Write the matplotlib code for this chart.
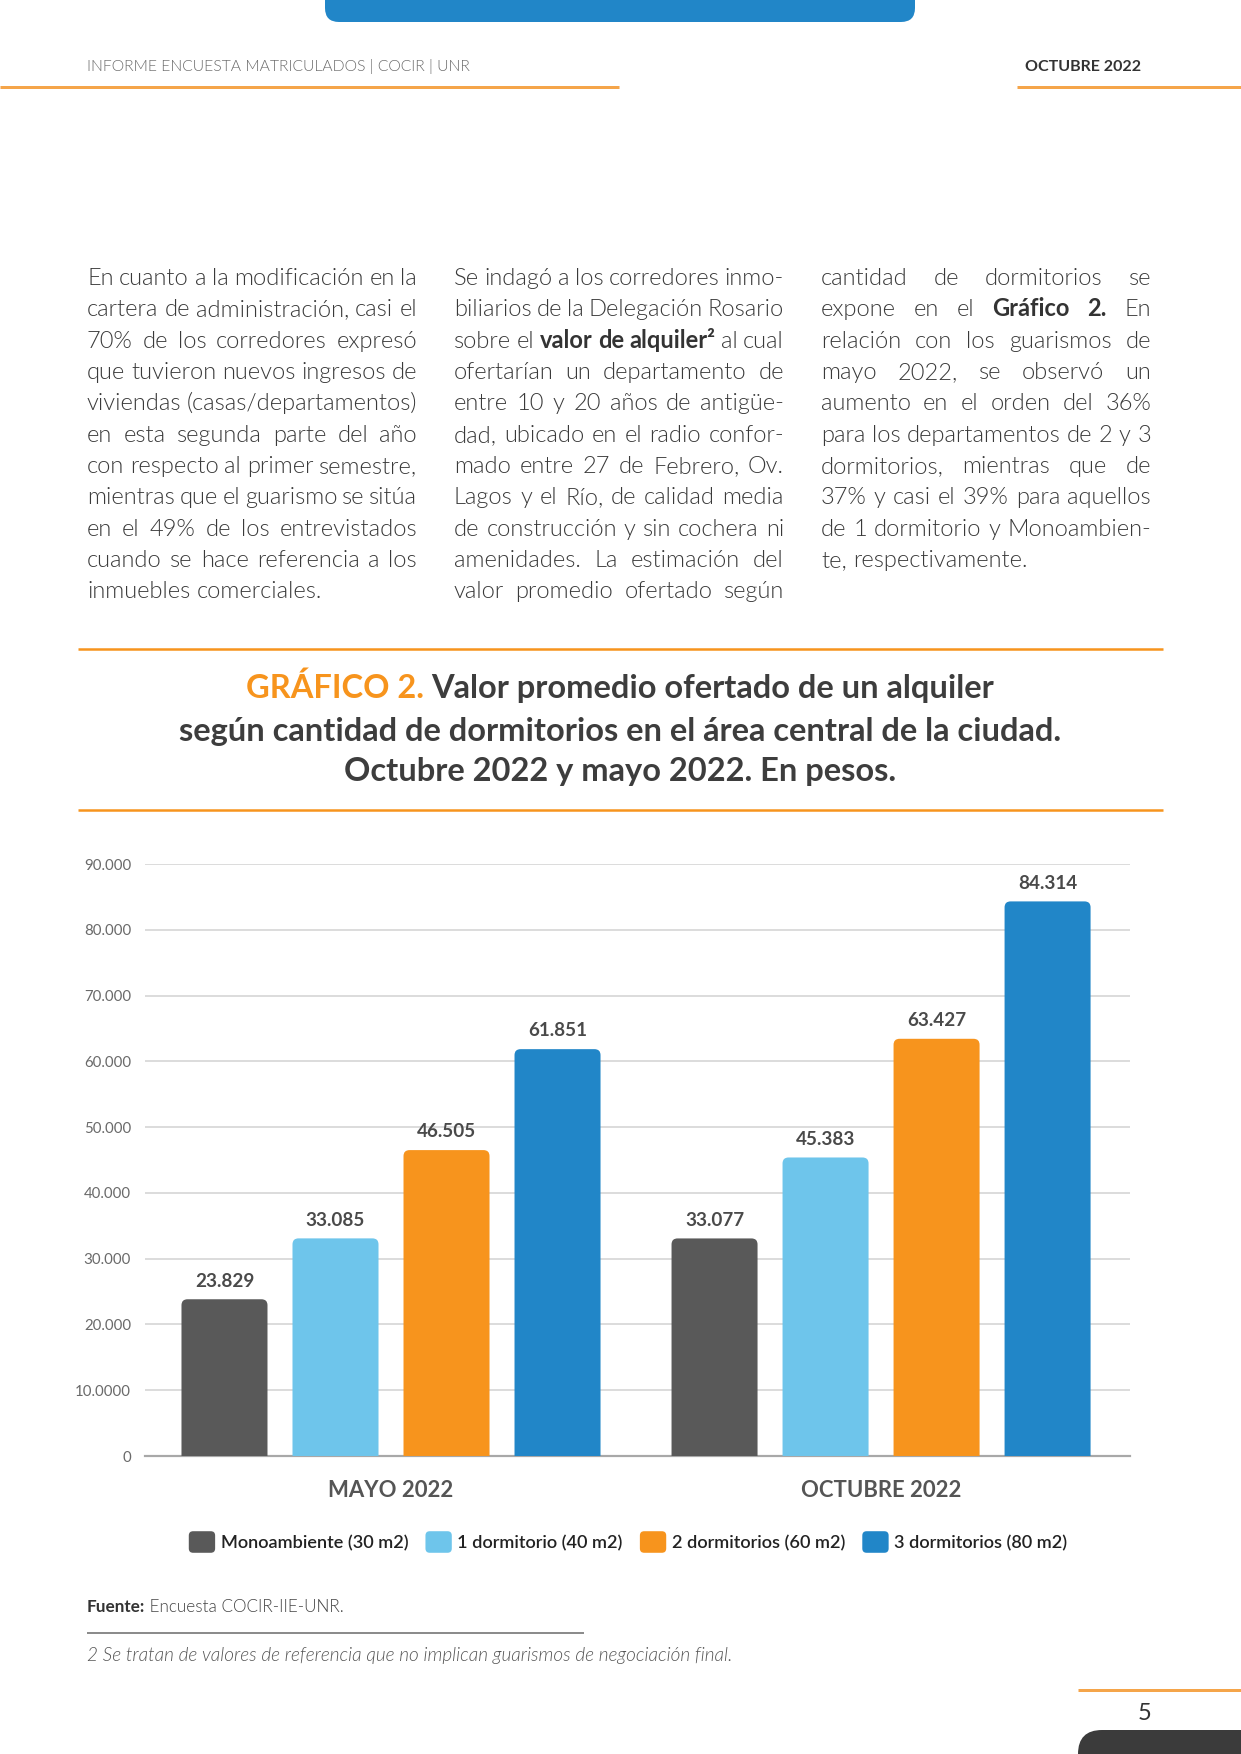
import numpy as np
import matplotlib
matplotlib.use("Agg")
import matplotlib.pyplot as plt
from matplotlib.patches import FancyBboxPatch, Rectangle
from matplotlib.lines import Line2D
from matplotlib.legend_handler import HandlerPatch
from matplotlib.transforms import IdentityTransform

plt.rcParams['font.family'] = ['Lato', 'DejaVu Sans']

# ---------------- data ----------------
groups = ["MAYO 2022", "OCTUBRE 2022"]
series = ["Monoambiente (30 m2)", "1 dormitorio (40 m2)",
          "2 dormitorios (60 m2)", "3 dormitorios (80 m2)"]
mayo_2022 = [23829, 33085, 46505, 61851]
octubre_2022 = [33077, 45383, 63427, 84314]
y_ticks = [0, 10000, 20000, 30000, 40000, 50000, 60000, 70000, 80000, 90000]
y_tick_labels = ["0", "10.0000", "20.000", "30.000", "40.000", "50.000",
                 "60.000", "70.000", "80.000", "90.000"]
series_colors = ["#595959", "#6EC5EB", "#F7941D", "#2186C8"]

header_left = "INFORME ENCUESTA MATRICULADOS | COCIR | UNR"
header_right = "OCTUBRE 2022"
title_prefix = "GRÁFICO 2."
title_lines = ["Valor promedio ofertado de un alquiler",
               "según cantidad de dormitorios en el área central de la ciudad.",
               "Octubre 2022 y mayo 2022. En pesos."]
col1 = ["En cuanto a la modificación en la",
        "cartera de administración, casi el",
        "70% de los corredores expresó",
        "que tuvieron nuevos ingresos de",
        "viviendas (casas/departamentos)",
        "en esta segunda parte del año",
        "con respecto al primer semestre,",
        "mientras que el guarismo se sitúa",
        "en el 49% de los entrevistados",
        "cuando se hace referencia a los",
        "inmuebles comerciales."]
col2 = ["Se indagó a los corredores inmo-",
        "biliarios de la Delegación Rosario",
        "sobre el **valor de alquiler²** al cual",
        "ofertarían un departamento de",
        "entre 10 y 20 años de antigüe-",
        "dad, ubicado en el radio confor-",
        "mado entre 27 de Febrero, Ov.",
        "Lagos y el Río, de calidad media",
        "de construcción y sin cochera ni",
        "amenidades. La estimación del",
        "valor promedio ofertado según"]
col3 = ["cantidad de dormitorios se",
        "expone en el **Gráfico 2.** En",
        "relación con los guarismos de",
        "mayo 2022, se observó un",
        "aumento en el orden del 36%",
        "para los departamentos de 2 y 3",
        "dormitorios, mientras que de",
        "37% y casi el 39% para aquellos",
        "de 1 dormitorio y Monoambien-",
        "te, respectivamente."]
col_last_left = [True, False, True]
fuente_bold = "Fuente:"
fuente_rest = " Encuesta COCIR-IIE-UNR."
footnote = "2 Se tratan de valores de referencia que no implican guarismos de negociación final."
page_number = "5"

# ---------------- figure ----------------
W, H, DPI = 1241, 1754, 100
fig = plt.figure(figsize=(W / DPI, H / DPI), dpi=DPI)
fig.patch.set_facecolor("white")
renderer = fig.canvas.get_renderer()

ORANGE = "#F7941D"
DARK = "#3d3d3d"
LIGHT = 300


def fx(x):
    return x / W


def fy(y):
    return 1 - y / H


def measure(s, size, weight="normal", style="normal"):
    t = fig.text(0, 0, s, fontsize=size, fontweight=weight, fontstyle=style)
    w = t.get_window_extent(renderer).width
    t.remove()
    return w


def fit_size(s, target, weight="normal", style="normal", base=12.0):
    return base * target / measure(s, base, weight, style)


def hline(x0, x1, y, color, lw_px):
    fig.add_artist(Line2D([fx(x0), fx(x1)], [fy(y), fy(y)], transform=fig.transFigure,
                          color=color, lw=lw_px * 72 / DPI, solid_capstyle="butt"))


# top blue tab
fig.add_artist(FancyBboxPatch((325, H - 22), 590, 60, boxstyle="round,pad=0,rounding_size=14",
                              transform=IdentityTransform(), fc="#2186C8", ec="none"))
# header
s = fit_size(header_left, 384, LIGHT)
fig.text(fx(87), fy(67), header_left, fontsize=s, fontweight=LIGHT, color="#6a6a6a",
         ha="left", va="center")
s = fit_size(header_right, 116, "bold")
fig.text(fx(1025), fy(67), header_right, fontsize=s, fontweight="bold", color="#333333",
         ha="left", va="center")
hline(0, 619, 87, "#F5A54A", 3)
hline(1017, 1241, 87, "#F5A54A", 3)

# ---------------- body text (justified) ----------------
BODY_COLOR = "#3a3a3a"
COL_W = 330


def tokens_of(line):
    toks = []
    bold = False
    for w in line.split(" "):
        b = bold
        if w.startswith("**"):
            w = w[2:]
            b = True
            bold = True
        if w.endswith("**"):
            w = w[:-2]
            bold = False
        toks.append((w, b))
    return toks


def line_widths(line, size):
    toks = tokens_of(line)
    return toks, [measure(w, size, "bold" if b else LIGHT) for w, b in toks]


def space_of(size):
    return measure("a a", size, LIGHT) - measure("aa", size, LIGHT)


def min_gap_ratio(size):
    sw = space_of(size)
    worst = 10.0
    for col, last_left in zip([col1, col2, col3], col_last_left):
        for k, line in enumerate(col):
            if last_left and k == len(col) - 1:
                continue
            toks, ws = line_widths(line, size)
            if len(toks) < 2:
                continue
            gap = (COL_W - sum(ws)) / (len(toks) - 1)
            worst = min(worst, gap / sw)
    return worst


BODY_SIZE = 17.5
while BODY_SIZE > 13 and min_gap_ratio(BODY_SIZE) < 0.6:
    BODY_SIZE -= 0.1
space_w = space_of(BODY_SIZE)


def draw_line(line, x0, x1, yb, justify):
    toks, widths = line_widths(line, BODY_SIZE)
    if justify and len(toks) > 1:
        gap = (x1 - x0 - sum(widths)) / (len(toks) - 1)
    else:
        gap = space_w
    x = x0
    for (w, b), wd in zip(toks, widths):
        fig.text(fx(x), fy(yb), w, fontsize=BODY_SIZE, fontweight="bold" if b else LIGHT,
                 color="#333333" if b else BODY_COLOR, ha="left", va="baseline")
        x += wd + gap


col_x = [(87, 87 + COL_W), (454, 454 + COL_W), (821, 821 + COL_W)]
first_base = 285
line_step = 31.35
for (x0, x1), col, last_left in zip(col_x, [col1, col2, col3], col_last_left):
    for k, line in enumerate(col):
        just = not (last_left and k == len(col) - 1)
        draw_line(line, x0, x1, first_base + k * line_step, just)

# ---------------- chart title ----------------
hline(78, 1163, 649, ORANGE, 2.5)
hline(78, 1163, 810, ORANGE, 2.5)
TSIZE = fit_size(title_lines[1], 881, "bold")
title_base = [698, 741, 781]
sp = measure("a a", TSIZE, "bold") - measure("aa", TSIZE, "bold")
wp = measure(title_prefix, TSIZE, "bold")
wr = measure(title_lines[0], TSIZE, "bold")
x_start = 620 - (wp + sp + wr) / 2
fig.text(fx(x_start), fy(title_base[0]), title_prefix, fontsize=TSIZE, fontweight="bold",
         color=ORANGE, ha="left", va="baseline")
fig.text(fx(x_start + wp + sp), fy(title_base[0]), title_lines[0], fontsize=TSIZE,
         fontweight="bold", color=DARK, ha="left", va="baseline")
for line, yb in zip(title_lines[1:], title_base[1:]):
    fig.text(fx(620), fy(yb), line, fontsize=TSIZE, fontweight="bold", color=DARK,
             ha="center", va="baseline")

# ---------------- bar chart ----------------
AX_L, AX_R, AX_T, AX_B = 145, 1130, 864, 1456
ax = fig.add_axes([fx(AX_L), fy(AX_B), (AX_R - AX_L) / W, (AX_B - AX_T) / H])
XMIN, XMAX = -0.502, 1.508
ax.set_xlim(XMIN, XMAX)
ax.set_ylim(0, 90000)
xg = np.arange(len(groups))
pitch, bw = 111 / 490, 86 / 490
ppx = (AX_R - AX_L) / (XMAX - XMIN)
ppy = (AX_B - AX_T) / 90000
rx, ry = 6 / ppx, 6 / ppy

LBL_SIZE = fit_size("23.829", 59, "bold")
handles = []
for i, name in enumerate(series):
    vals = [mayo_2022[i], octubre_2022[i]]
    bars = ax.bar(xg + (i - 1.5) * pitch, vals, bw, color=series_colors[i], label=name, zorder=3)
    handles.append(bars.patches[0])
    for rect, v in zip(bars.patches, vals):
        x, w, h = rect.get_x(), rect.get_width(), rect.get_height()
        fb = FancyBboxPatch((x, -2 * ry), w, h + 2 * ry,
                            boxstyle=f"round,pad=0,rounding_size={rx}",
                            mutation_aspect=ry / rx, fc=series_colors[i], ec="none", zorder=3)
        ax.add_patch(fb)
        rect.set_visible(False)
        ax.annotate(f"{v:,}".replace(",", "."), (x + w / 2, v), xytext=(0, 7),
                    textcoords="offset points", ha="center", va="bottom",
                    fontsize=LBL_SIZE, fontweight="bold", color="#4a4a4a", annotation_clip=False)

ax.set_yticks(y_ticks)
ax.set_yticklabels(y_tick_labels)
TICK_SIZE = fit_size("90.000", 47, "normal")
ax.tick_params(axis="y", length=0, pad=10, labelsize=TICK_SIZE, labelcolor="#6a6a6a")
ax.set_xticks(xg)
ax.set_xticklabels(groups)
GRP_SIZE = fit_size("OCTUBRE 2022", 160, "bold")
ax.tick_params(axis="x", length=0, pad=17, labelsize=GRP_SIZE, labelcolor="#555555")
for t in ax.get_xticklabels():
    t.set_fontweight("bold")
ax.yaxis.grid(True, color="#d2d2d2", lw=1.1)
ax.set_axisbelow(True)
for side in ["top", "right", "left"]:
    ax.spines[side].set_visible(False)
ax.spines["bottom"].set_color("#a8a8a8")
ax.spines["bottom"].set_linewidth(2.2 * 72 / DPI)
ax.set_facecolor("none")


class RoundHandler(HandlerPatch):
    def create_artists(self, legend, orig_handle, xdescent, ydescent, width, height,
                       fontsize, trans):
        p = FancyBboxPatch((-xdescent, -ydescent), width, height,
                           boxstyle=f"round,pad=0,rounding_size={height * 0.2}",
                           fc=orig_handle.get_facecolor(), ec="none", transform=trans)
        return [p]


LEG_SIZE = fit_size(series[0], 188, "semibold")
leg = fig.legend(handles, series, loc="center", bbox_to_anchor=(fx(628), fy(1542)), ncol=4,
                 frameon=False, handler_map={Rectangle: RoundHandler()},
                 prop={"size": LEG_SIZE, "weight": "semibold"},
                 handlelength=1.45, handleheight=1.45, handletextpad=0.3,
                 columnspacing=0.95, borderpad=0, borderaxespad=0)
for t in leg.get_texts():
    t.set_color("#222222")

# ---------------- footer ----------------
FS = fit_size(fuente_bold + fuente_rest, 255, LIGHT)
wb = measure(fuente_bold, FS, "bold")
fig.text(fx(87), fy(1607), fuente_bold, fontsize=FS, fontweight="bold", color="#333333",
         ha="left", va="center")
fig.text(fx(87 + wb), fy(1607), fuente_rest, fontsize=FS, fontweight=LIGHT, color="#444444",
         ha="left", va="center")
hline(87, 584, 1633, "#8c8c8c", 2)
NS = fit_size(footnote, 646, LIGHT, "italic")
fig.text(fx(87), fy(1655), footnote, fontsize=NS, fontweight=LIGHT, fontstyle="italic",
         color="#555555", ha="left", va="center")

hline(1078, 1241, 1690, "#F5A54A", 3)
fig.text(fx(1145), fy(1713), page_number, fontsize=17, color="#333333", ha="center",
         va="center")
fig.add_artist(FancyBboxPatch((1078, -40), 220, 64, boxstyle="round,pad=0,rounding_size=24",
                              transform=IdentityTransform(), fc="#3b3b3b", ec="none"))

fig.savefig("out.png", dpi=DPI, facecolor="white")
